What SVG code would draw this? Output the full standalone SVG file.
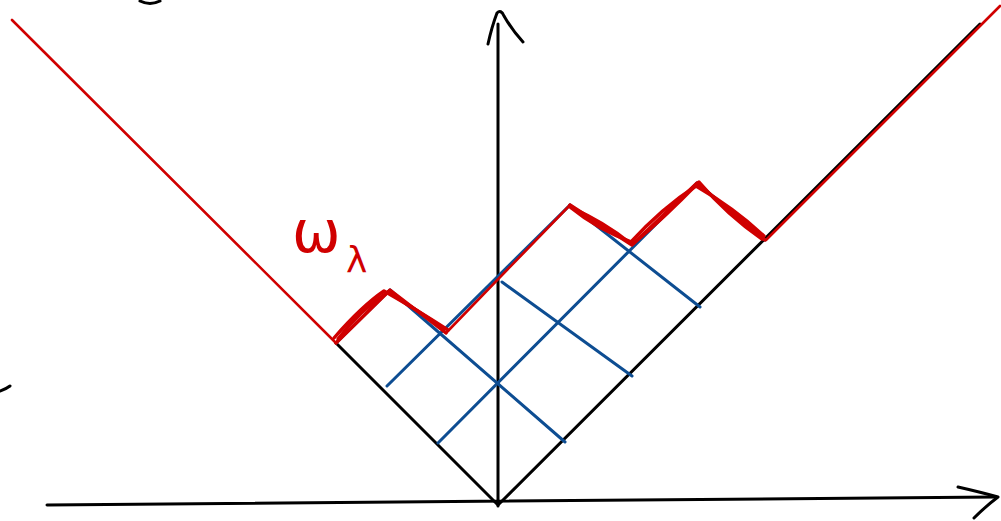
<svg xmlns="http://www.w3.org/2000/svg" width="1001" height="521" viewBox="0 0 1001 521">
<style>
.k{stroke:#000;stroke-width:3;fill:none;stroke-linecap:round;stroke-linejoin:round}
.b{stroke:#0d4d92;stroke-width:3;fill:none;stroke-linecap:round}
.r{stroke:#d00000;stroke-width:2.6;fill:none;stroke-linecap:round;stroke-linejoin:round}
.rt{stroke:#d00000;stroke-width:3.4;fill:none;stroke-linecap:round;stroke-linejoin:round}
.lbl{font-family:"DejaVu Sans",sans-serif;fill:#d00000}
</style>
<rect width="1001" height="521" fill="#fff"/>
<g id="axes">
<path class="k" d="M47,505 L995,497"/>
<path class="k" d="M958,487 Q980,492 998,497 Q986,506 974,518"/>
<path class="k" d="M498,506 L498,24"/>
<path class="k" d="M488,44 Q492,26 497,13 Q501,9 504,16 Q512,30 523,42"/>
<path class="k" d="M140,1 Q150,6 160,1"/>
<path class="k" d="M0,391 Q6,389 10,386"/>
</g>
<g id="cone">
<path class="k" d="M336,343 L498,505 L980,24"/>
</g>
<g id="connectors">
<path class="b" d="M336,343 L390,290"/>
<path class="b" d="M387,386 L570,205"/>
<path class="b" d="M438,443 L697,183"/>
<path class="b" d="M390,290 L565,442"/>
<path class="b" d="M502,282 L632,376"/>
<path class="b" d="M570,205 L700,307"/>
<path class="b" d="M697,183 L765,240"/>
</g>
<g id="boundary">
<path class="r" d="M12,20 L336,343"/>
<path class="r" d="M446,333 L570,205"/>
<path class="r" d="M766,240 L1000,6"/>
<path class="rt" d="M336,343 L390,290 L446,333"/>
<path class="rt" d="M338,339 Q360,310 388,292 Q420,312 444,329"/>
<path class="rt" d="M334,338 Q362,306 384,291 Q414,308 448,330"/>
<path class="rt" d="M570,205 L632,245 L697,183 L765,240"/>
<path class="rt" d="M572,208 Q604,222 630,243 Q662,208 696,186 Q734,208 764,236"/>
<path class="rt" d="M570,207 Q598,230 634,243 Q664,218 699,182 Q728,216 762,239"/>
</g>
<g id="label">
<text class="lbl" x="292" y="252" font-size="58">ω</text>
<text class="lbl" x="346" y="272" font-size="36">λ</text>
</g>
</svg>
